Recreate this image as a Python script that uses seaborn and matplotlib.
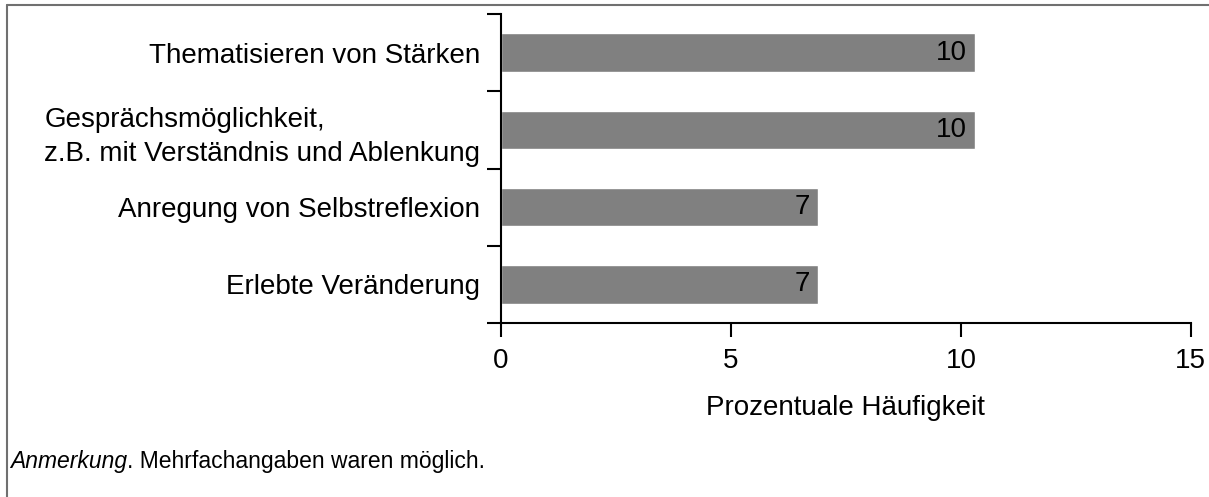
import matplotlib.pyplot as plt
import seaborn as sns
import pandas as pd
from matplotlib.lines import Line2D

kategorien = ['Thematisieren von Stärken',
              'Gesprächsmöglichkeit,\nz.B. mit Verständnis und Ablenkung',
              'Anregung von Selbstreflexion',
              'Erlebte Veränderung']
werte = [10.3, 10.3, 6.9, 6.9]
beschriftung = ['10', '10', '7', '7']

df = pd.DataFrame({'Kategorie': kategorien, 'Wert': werte})

sns.set_style('ticks')
plt.rcParams['font.family'] = ['Liberation Sans', 'DejaVu Sans']
plt.rcParams['text.color'] = 'black'
plt.rcParams['axes.labelcolor'] = 'black'
plt.rcParams['xtick.color'] = 'black'
plt.rcParams['ytick.color'] = 'black'

fig = plt.figure(figsize=(12.09, 4.97), dpi=100)
ax = fig.add_axes([0.4144, 0.350, 0.5706, 0.6218])

sns.barplot(data=df, x='Wert', y='Kategorie', orient='h', color='#808080',
            width=0.5, saturation=1, ax=ax)

for i, (w, t) in enumerate(zip(werte, beschriftung)):
    ax.annotate(t, xy=(w, i), xytext=(-6, 0), textcoords='offset points',
                ha='right', va='center', fontsize=20, color='black')

ax.set_xlim(0, 15)
ax.set_ylim(3.5, -0.5)
ax.set_xticks([0, 5, 10, 15])
ax.set_yticks([0, 1, 2, 3])
ax.set_yticklabels(kategorien, linespacing=1.4, multialignment='left')
ax.set_yticks([-0.5, 0.5, 1.5, 2.5, 3.5], minor=True)
ax.tick_params(axis='y', which='major', length=0, labelsize=20, pad=15)
ax.tick_params(axis='y', which='minor', length=10, width=1.5, color='black')
ax.tick_params(axis='x', length=10, width=1.5, color='black', labelsize=20, pad=8)
ax.set_xlabel('Prozentuale Häufigkeit', fontsize=20, labelpad=15)
ax.set_ylabel('')
ax.spines['top'].set_visible(False)
ax.spines['right'].set_visible(False)
ax.spines['left'].set_linewidth(1.5)
ax.spines['bottom'].set_linewidth(1.5)
ax.spines['left'].set_color('black')
ax.spines['bottom'].set_color('black')

# Rahmen oben und links
fig.add_artist(Line2D([0.006, 1.0], [0.990, 0.990], color='#707070', lw=1.5))
fig.add_artist(Line2D([0.006, 0.006], [0.0, 0.990], color='#707070', lw=1.5))

t1 = fig.text(0.008, 0.058, 'Anmerkung', fontsize=16.5, style='italic',
              ha='left', va='baseline')
ax.annotate('. Mehrfachangaben waren möglich.', xy=(1, 0), xycoords=t1,
            fontsize=16.5, ha='left', va='bottom', annotation_clip=False)

fig.savefig('out.png', dpi=100)
